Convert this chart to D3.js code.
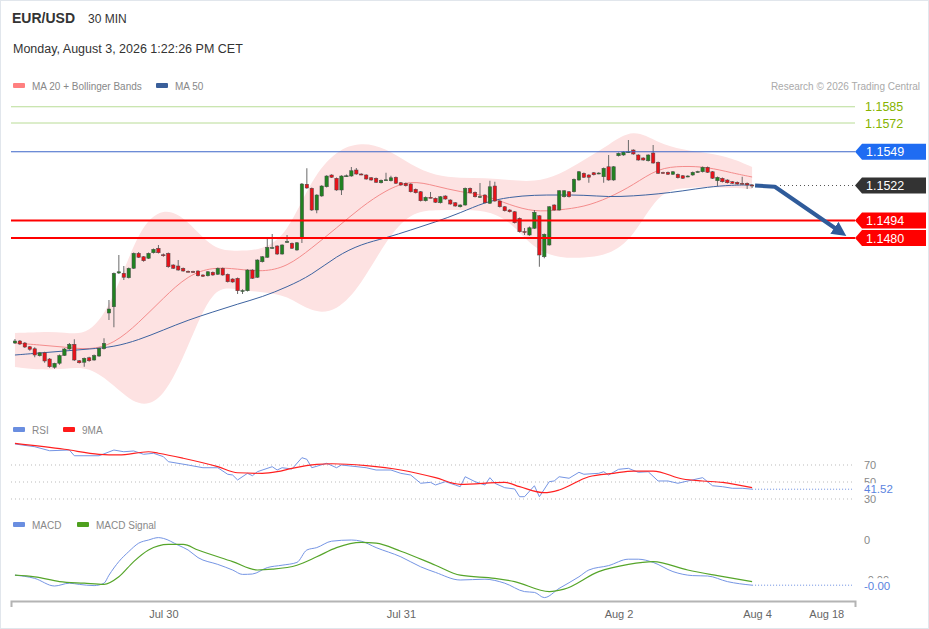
<!DOCTYPE html>
<html>
<head>
<meta charset="utf-8">
<script src="https://cdn.jsdelivr.net/npm/d3@7"></script>
<style>
body { margin:0; background:#fff; }
svg text { font-family: "Liberation Sans", Arial, sans-serif; }
</style>
</head>
<body>
<svg id="chart"></svg>
<script>
// candles, 30 min bars: [open, high, low, close]
var ohlc = [
[1.13960,1.13992,1.13952,1.13976],[1.13976,1.13984,1.13944,1.13952],[1.13960,1.13968,1.13920,1.13928],[1.13930,1.13936,1.13898,1.13910],
[1.13914,1.13926,1.13846,1.13864],[1.13858,1.13888,1.13852,1.13882],[1.13882,1.13890,1.13802,1.13816],[1.13832,1.13840,1.13762,1.13770],
[1.13766,1.13802,1.13754,1.13798],[1.13798,1.13868,1.13786,1.13860],[1.13860,1.13920,1.13856,1.13912],[1.13912,1.13960,1.13906,1.13950],
[1.13950,1.13990,1.13816,1.13824],[1.13818,1.13824,1.13796,1.13802],[1.13806,1.13844,1.13770,1.13838],[1.13842,1.13850,1.13810,1.13818],
[1.13824,1.13868,1.13818,1.13860],[1.13856,1.13924,1.13848,1.13918],[1.13914,1.13998,1.13908,1.13958],[1.14200,1.14304,1.14144,1.14232],
[1.14250,1.14524,1.14086,1.14518],[1.14520,1.14664,1.14512,1.14530],[1.14518,1.14576,1.14464,1.14486],[1.14482,1.14564,1.14476,1.14558],
[1.14558,1.14684,1.14552,1.14678],[1.14678,1.14688,1.14640,1.14646],[1.14650,1.14656,1.14610,1.14618],[1.14638,1.14684,1.14632,1.14678],
[1.14682,1.14716,1.14676,1.14710],[1.14718,1.14744,1.14676,1.14682],[1.14666,1.14676,1.14650,1.14662],[1.14678,1.14684,1.14562,1.14570],
[1.14584,1.14590,1.14552,1.14558],[1.14576,1.14624,1.14538,1.14544],[1.14558,1.14564,1.14530,1.14536],[1.14534,1.14540,1.14526,1.14532],
[1.14532,1.14538,1.14522,1.14528],[1.14536,1.14542,1.14492,1.14498],[1.14504,1.14510,1.14488,1.14494],[1.14498,1.14536,1.14492,1.14530],
[1.14526,1.14532,1.14498,1.14504],[1.14510,1.14564,1.14504,1.14558],[1.14558,1.14564,1.14498,1.14504],[1.14510,1.14516,1.14444,1.14450],
[1.14472,1.14478,1.14442,1.14448],[1.14478,1.14484,1.14352,1.14378],[1.14378,1.14390,1.14352,1.14380],[1.14378,1.14550,1.14372,1.14544],
[1.14544,1.14550,1.14472,1.14478],[1.14486,1.14630,1.14480,1.14624],[1.14610,1.14656,1.14604,1.14650],[1.14646,1.14806,1.14640,1.14726],
[1.14722,1.14832,1.14714,1.14724],[1.14736,1.14742,1.14664,1.14672],[1.14672,1.14750,1.14666,1.14744],[1.14770,1.14824,1.14762,1.14772],
[1.14758,1.14764,1.14712,1.14718],[1.14704,1.14768,1.14698,1.14762],[1.14806,1.15240,1.14760,1.15232],[1.15230,1.15358,1.15194,1.15200],
[1.15198,1.15204,1.15016,1.15024],[1.15024,1.15150,1.14998,1.15144],[1.15136,1.15222,1.15130,1.15216],[1.15210,1.15302,1.15204,1.15296],
[1.15304,1.15310,1.15280,1.15286],[1.15278,1.15284,1.15178,1.15184],[1.15184,1.15302,1.15144,1.15296],[1.15296,1.15308,1.15288,1.15298],
[1.15296,1.15368,1.15290,1.15338],[1.15344,1.15360,1.15306,1.15312],[1.15312,1.15318,1.15302,1.15310],[1.15304,1.15310,1.15266,1.15272],
[1.15282,1.15288,1.15258,1.15264],[1.15278,1.15284,1.15240,1.15246],[1.15242,1.15268,1.15236,1.15262],[1.15264,1.15322,1.15256,1.15266],
[1.15258,1.15298,1.15252,1.15282],[1.15286,1.15292,1.15232,1.15238],[1.15242,1.15248,1.15218,1.15224],[1.15238,1.15244,1.15212,1.15218],
[1.15232,1.15238,1.15164,1.15170],[1.15190,1.15196,1.15156,1.15162],[1.15170,1.15176,1.15092,1.15098],[1.15098,1.15132,1.15092,1.15126],
[1.15126,1.15168,1.15118,1.15124],[1.15118,1.15124,1.15080,1.15086],[1.15082,1.15136,1.15076,1.15130],[1.15136,1.15142,1.15106,1.15112],
[1.15104,1.15110,1.15066,1.15072],[1.15082,1.15088,1.15050,1.15056],[1.15050,1.15070,1.15044,1.15064],[1.15064,1.15204,1.15058,1.15198],
[1.15198,1.15204,1.15156,1.15162],[1.15166,1.15172,1.15124,1.15130],[1.15130,1.15240,1.15122,1.15132],[1.15144,1.15150,1.15076,1.15082],
[1.15078,1.15258,1.15072,1.15210],[1.15216,1.15250,1.15090,1.15096],[1.15096,1.15102,1.15044,1.15050],[1.15050,1.15056,1.15012,1.15018],
[1.15024,1.15030,1.15004,1.15010],[1.15010,1.15016,1.14916,1.14922],[1.14958,1.14964,1.14844,1.14850],[1.14852,1.14880,1.14824,1.14848],
[1.14824,1.14892,1.14818,1.14882],[1.14878,1.15024,1.14872,1.15006],[1.14978,1.14984,1.14570,1.14664],[1.14650,1.14836,1.14638,1.14830],
[1.14744,1.15056,1.14738,1.15050],[1.15064,1.15070,1.15018,1.15024],[1.15024,1.15184,1.15018,1.15178],[1.15130,1.15184,1.15124,1.15178],
[1.15170,1.15176,1.15124,1.15130],[1.15170,1.15276,1.15164,1.15270],[1.15264,1.15336,1.15258,1.15330],[1.15318,1.15324,1.15280,1.15286],
[1.15304,1.15310,1.15242,1.15286],[1.15322,1.15328,1.15300,1.15306],[1.15318,1.15326,1.15310,1.15320],[1.15290,1.15364,1.15242,1.15358],
[1.15370,1.15464,1.15258,1.15264],[1.15264,1.15376,1.15258,1.15370],[1.15458,1.15484,1.15452,1.15478],[1.15464,1.15494,1.15458,1.15488],
[1.15488,1.15584,1.15480,1.15490],[1.15504,1.15510,1.15466,1.15472],[1.15464,1.15470,1.15418,1.15424],[1.15440,1.15446,1.15418,1.15424],
[1.15418,1.15470,1.15412,1.15464],[1.15480,1.15544,1.15394,1.15400],[1.15406,1.15412,1.15312,1.15318],[1.15324,1.15330,1.15316,1.15322],
[1.15326,1.15332,1.15304,1.15310],[1.15310,1.15336,1.15304,1.15330],[1.15310,1.15316,1.15276,1.15282],[1.15298,1.15304,1.15272,1.15278],
[1.15292,1.15302,1.15286,1.15296],[1.15304,1.15332,1.15298,1.15326],[1.15330,1.15338,1.15322,1.15332],[1.15330,1.15372,1.15324,1.15366],
[1.15366,1.15372,1.15320,1.15326],[1.15330,1.15336,1.15272,1.15278],[1.15258,1.15292,1.15216,1.15286],[1.15278,1.15284,1.15244,1.15250],
[1.15264,1.15270,1.15236,1.15242],[1.15250,1.15256,1.15232,1.15238],[1.15246,1.15252,1.15226,1.15232],[1.15238,1.15290,1.15230,1.15236],
[1.15238,1.15244,1.15192,1.15224],[1.15224,1.15232,1.15200,1.15220]
];

// MA 20 / Bollinger / MA 50, read every 5 bars
var maIdx = [0,5,10,15,20,25,30,35,40,45,50,55,60,65,70,75,80,85,90,95,100,105,110,115,120,125,130,135,140,145,149];
var ma20 = [1.1396,1.13944,1.13928,1.13904,1.13952,1.1412,1.1432,1.14504,1.14568,1.14552,1.14528,1.14568,1.1472,1.1488,1.15048,1.15184,1.15264,1.15216,1.15168,1.15144,1.15064,1.15008,1.15024,1.15048,1.1512,1.15224,1.1536,1.15376,1.15368,1.1532,1.15288];
var ma50 = [1.13864,1.1388,1.13896,1.13912,1.13928,1.13984,1.14064,1.14144,1.14208,1.14272,1.14328,1.14408,1.14504,1.14656,1.14752,1.148,1.14864,1.14928,1.15,1.15088,1.15128,1.15144,1.15144,1.15144,1.15128,1.15136,1.15152,1.15176,1.15208,1.15224,1.15224];
var bbUpper = [1.1404,1.14048,1.14048,1.14016,1.14304,1.1488,1.15056,1.14944,1.14704,1.14696,1.14704,1.14824,1.1528,1.15504,1.15568,1.1552,1.15384,1.15296,1.1528,1.1528,1.15264,1.15248,1.15304,1.15424,1.15544,1.1568,1.1556,1.15504,1.1548,1.1544,1.15368];
var bbLower = [1.13768,1.13744,1.13752,1.13776,1.13624,1.1344,1.13504,1.13928,1.14424,1.14384,1.14368,1.14344,1.142,1.14208,1.14424,1.14784,1.15008,1.15024,1.15024,1.15024,1.14944,1.14704,1.1464,1.1464,1.14664,1.148,1.15168,1.152,1.15208,1.152,1.15192];

// key levels
var levelValues = [1.1585, 1.1572, 1.1549, 1.1522, 1.1494, 1.1480];
var levelKinds = ['target', 'target', 'pivot', 'last', 'support', 'support'];

// projection arrow (bar index, price)
var projIdx = [149.6, 153.6, 166.6];
var projVal = [1.1522, 1.1521, 1.14856];

// RSI and its 9 MA
var rsiIdx = [0,4,7,11,12,17,20,22,24,26,28,30,31,35,38,41,43,44,45,47,48,49,52,53,54,56,58,59,60,63,65,66,71,73,76,78,80,82,84,85,87,89,90,91,93,95,96,97,99,101,102,103,105,106,108,109,110,112,114,115,118,119,120,122,124,126,128,130,132,134,136,139,141,143,145,147,149];
var rsiVal = [94.7,91.5,86.8,87.6,80.9,80.9,87.6,85.6,86.5,82.6,83.8,79.8,73.9,70,66.8,66.8,59.1,58.2,52.4,60.2,57.4,62.1,68,64.1,66.8,65.3,78.6,76.7,66.8,72,66.8,70,66.8,64.1,64.1,60.2,58.2,48.5,49.6,46.5,50.4,46.5,44.5,56.2,50.4,46.5,55.1,48.5,43.3,41.8,32.7,32.7,45.6,32.7,50.4,51.2,56.2,54.4,61.4,59.1,60.2,62.1,58.2,64.9,66.1,61.4,62.1,51.2,51.2,48.5,51.2,55.1,45.6,44.5,42.6,42.6,41.52];
var rsiMaIdx = [0,10,17,21,27,29,34,41,45,50,53,56,61,64,71,78,85,90,99,102,107,110,116,121,125,129,135,139,143,149];
var rsiMaVal = [95.5,88.5,82.6,81.8,85.6,83.8,77.9,68,60.9,60.2,62.1,66.1,70.8,71.5,69.2,64.1,55.1,47.3,49.6,44.5,37.4,40.6,56.2,60.2,62.9,62.9,53.5,51.2,49.6,43.3];
var rsiTicks = [70, 50, 30];

// MACD and signal
var macdIdx = [0,4,8,11,13,16,18,19,21,23,25,27,29,30,33,35,37,41,44,46,48,51,54,57,59,61,64,68,70,73,78,82,85,90,95,99,103,105,107,110,114,116,120,124,126,129,133,137,140,144,149];
var macdVal = [-0.00088,-0.00096,-0.00115,-0.00108,-0.00111,-0.00114,-0.00108,-0.00088,-0.00054,-0.00029,-0.00008,0,0.00006,0.00004,-0.00013,-0.00025,-0.00044,-0.00061,-0.00075,-0.00086,-0.00085,-0.00069,-0.00063,-0.00056,-0.00025,-0.00019,-0.00003,0,-0.00003,-0.00019,-0.00042,-0.00067,-0.00081,-0.001,-0.00098,-0.00108,-0.00129,-0.00131,-0.00144,-0.00121,-0.00092,-0.00075,-0.00064,-0.00048,-0.00048,-0.00056,-0.00079,-0.00089,-0.0009,-0.00104,-0.00113];
var sigIdx = [0,4,9,14,18,21,24,27,31,34,37,44,49,52,57,61,65,70,73,78,85,90,97,101,108,111,118,124,129,136,142,149];
var sigVal = [-0.00088,-0.00092,-0.00104,-0.00108,-0.00111,-0.00092,-0.00054,-0.00025,-0.00011,-0.00011,-0.00025,-0.00054,-0.00075,-0.00073,-0.00063,-0.00042,-0.00019,-0.00006,-0.00008,-0.00028,-0.00063,-0.00088,-0.00096,-0.00104,-0.00129,-0.00123,-0.00079,-0.00061,-0.00054,-0.00075,-0.00089,-0.00104];
var macdTicks = [0, -0.001];

// x axis
var tickIdx = [30, 78, 122, 150, 164];
var tickLabels = ['Jul 30', 'Jul 31', 'Aug 2', 'Aug 4', 'Aug 18'];

var W = 929, H = 629;
var svg = d3.select('#chart').attr('width', W).attr('height', H);

var x = d3.scaleLinear().domain([-0.8, 169.8]).range([11, 855]);
var y = d3.scaleLinear().domain([1.1480, 1.1585]).range([238, 106.75]);
var yRsi = d3.scaleLinear().domain([30, 70]).range([499, 465]);
var yMacd = d3.scaleLinear().domain([-0.001, 0]).range([580, 540]);
var lineEnd = 852;

// keep the sign when a small negative rounds to zero
function fmt2(v) { return (v < 0 ? '-' : '') + Math.abs(v).toFixed(2); }

svg.append('rect').attr('x', 0.5).attr('y', 0.5).attr('width', W - 1).attr('height', H - 1)
    .attr('fill', '#fff').attr('stroke', '#e1e6ec');

// header
svg.append('text').attr('x', 12).attr('y', 23).text('EUR/USD')
    .attr('font-size', 14).attr('font-weight', 'bold').attr('fill', '#333');
svg.append('text').attr('x', 88).attr('y', 23).text('30 MIN')
    .attr('font-size', 12).attr('fill', '#333');
svg.append('text').attr('x', 13).attr('y', 53).text('Monday, August 3, 2026 1:22:26 PM CET')
    .attr('font-size', 12.5).attr('fill', '#333');
svg.append('text').attr('x', 920).attr('y', 90).attr('text-anchor', 'end')
    .text('Research \u00a9 2026 Trading Central').attr('font-size', 10).attr('fill', '#aaa');

function legend(items, ly) {
    items.forEach(function(it) {
        svg.append('rect').attr('x', it[0]).attr('y', ly - 3).attr('width', 12).attr('height', 5)
            .attr('rx', 1).attr('fill', it[2]);
        svg.append('text').attr('x', it[0] + 19).attr('y', ly + 3.5).text(it[1])
            .attr('font-size', 10).attr('fill', '#888');
    });
}
legend([[13, 'MA 20 + Bollinger Bands', '#ff8080'], [156, 'MA 50', '#3a5f9a']], 86);
legend([[13, 'RSI', '#6a8ee0'], [63, '9MA', '#ff1a1a']], 430);
legend([[13, 'MACD', '#6a8ee0'], [77, 'MACD Signal', '#4ea01e']], 525);

// bollinger band + moving averages
var band = maIdx.map(function(d, i) { return {i: d, hi: bbUpper[i], lo: bbLower[i], m20: ma20[i], m50: ma50[i]}; });
svg.append('path').datum(band)
    .attr('d', d3.area().x(d => x(d.i)).y0(d => y(d.lo)).y1(d => y(d.hi)).curve(d3.curveBasis))
    .attr('fill', '#fde2e2');
svg.append('path').datum(band)
    .attr('d', d3.line().x(d => x(d.i)).y(d => y(d.m20)).curve(d3.curveBasis))
    .attr('fill', 'none').attr('stroke', '#f48c8c').attr('stroke-width', 1);
svg.append('path').datum(band)
    .attr('d', d3.line().x(d => x(d.i)).y(d => y(d.m50)).curve(d3.curveBasis))
    .attr('fill', 'none').attr('stroke', '#3d63a0').attr('stroke-width', 1);

// candles
var bw = 3.4;
var cg = svg.append('g');
cg.selectAll('line').data(ohlc).join('line')
    .attr('x1', (d, i) => x(i)).attr('x2', (d, i) => x(i))
    .attr('y1', d => y(d[1])).attr('y2', d => y(d[2]))
    .attr('stroke', '#6a6a6a').attr('stroke-width', 1);
cg.selectAll('rect').data(ohlc).join('rect')
    .attr('x', (d, i) => x(i) - bw / 2)
    .attr('y', d => y(Math.max(d[0], d[3])))
    .attr('width', bw)
    .attr('height', d => Math.max(1, Math.abs(y(d[0]) - y(d[3]))))
    .attr('fill', d => d[3] >= d[0] ? '#218221' : '#e8121a')
    .attr('stroke', '#4a4a4a').attr('stroke-width', 0.5);

// level lines and labels
var lastX = x(ohlc.length - 1);
levelValues.forEach(function(v, i) {
    var k = levelKinds[i], ly = y(v);
    if (k === 'target') {
        svg.append('line').attr('x1', 11).attr('x2', 855).attr('y1', ly).attr('y2', ly)
            .attr('stroke', '#b9dc96').attr('stroke-width', 1);
        svg.append('text').attr('x', 865).attr('y', ly + 4.5).text(v.toFixed(4))
            .attr('font-size', 12.5).attr('fill', '#86b300');
        return;
    }
    var boxColor;
    if (k === 'pivot') {
        svg.append('line').attr('x1', 11).attr('x2', 855).attr('y1', ly).attr('y2', ly)
            .attr('stroke', '#3d66c8').attr('stroke-width', 1);
        boxColor = '#1f6cf2';
    } else if (k === 'last') {
        svg.append('line').attr('x1', 780).attr('x2', 855).attr('y1', ly).attr('y2', ly)
            .attr('stroke', '#555').attr('stroke-width', 1).attr('stroke-dasharray', '1,3');
        boxColor = '#333';
    } else {
        svg.append('line').attr('x1', 11).attr('x2', 855).attr('y1', ly).attr('y2', ly)
            .attr('stroke', '#ff0000').attr('stroke-width', 2);
        boxColor = '#ff0000';
    }
    svg.append('path')
        .attr('d', `M855,${ly} L862,${ly - 8} L926,${ly - 8} L926,${ly + 8} L862,${ly + 8} Z`)
        .attr('fill', boxColor);
    svg.append('text').attr('x', 866).attr('y', ly + 4.5).text(v.toFixed(4))
        .attr('font-size', 12.5).attr('fill', '#fff');
});

// projection arrow
svg.append('defs').append('marker').attr('id', 'head')
    .attr('viewBox', '0 0 10 10').attr('refX', 4).attr('refY', 5)
    .attr('markerWidth', 3.6).attr('markerHeight', 3.6).attr('orient', 'auto')
    .append('path').attr('d', 'M0,0 L10,5 L0,10 Z').attr('fill', '#2f5b9a');
svg.append('path').datum(projIdx.map((d, i) => [d, projVal[i]]))
    .attr('d', d3.line().x(d => x(d[0])).y(d => y(d[1])))
    .attr('fill', 'none').attr('stroke', '#2f5b9a').attr('stroke-width', 4)
    .attr('stroke-linejoin', 'round').attr('marker-end', 'url(#head)');

// RSI pane
rsiTicks.forEach(function(t) {
    svg.append('line').attr('x1', 11).attr('x2', lineEnd).attr('y1', yRsi(t)).attr('y2', yRsi(t))
        .attr('stroke', '#bbb').attr('stroke-dasharray', '1,3');
    svg.append('text').attr('x', 864).attr('y', yRsi(t) + 4).text(t)
        .attr('font-size', 11).attr('fill', '#888');
});
svg.append('path').datum(rsiIdx.map((d, i) => [d, rsiVal[i]]))
    .attr('d', d3.line().x(d => x(d[0])).y(d => yRsi(d[1])))
    .attr('fill', 'none').attr('stroke', '#7595e4').attr('stroke-width', 1);
svg.append('path').datum(rsiMaIdx.map((d, i) => [d, rsiMaVal[i]]))
    .attr('d', d3.line().x(d => x(d[0])).y(d => yRsi(d[1])).curve(d3.curveMonotoneX))
    .attr('fill', 'none').attr('stroke', '#ff2020').attr('stroke-width', 1.2);
var rsiLast = rsiVal[rsiVal.length - 1];
svg.append('line').attr('x1', lastX).attr('x2', lineEnd).attr('y1', yRsi(rsiLast)).attr('y2', yRsi(rsiLast))
    .attr('stroke', '#6a8ee0').attr('stroke-dasharray', '1,2');
svg.append('rect').attr('x', 862).attr('y', yRsi(rsiLast) - 6).attr('width', 34).attr('height', 12).attr('fill', '#fff');
svg.append('text').attr('x', 864).attr('y', yRsi(rsiLast) + 4).text(rsiLast.toFixed(2))
    .attr('font-size', 11.5).attr('fill', '#5b84e0');

// MACD pane
macdTicks.forEach(function(t) {
    svg.append('text').attr('x', 864).attr('y', yMacd(t) + 4)
        .text(t === 0 ? '0' : fmt2(t))
        .attr('font-size', 11).attr('fill', '#888');
});
svg.append('path').datum(macdIdx.map((d, i) => [d, macdVal[i]]))
    .attr('d', d3.line().x(d => x(d[0])).y(d => yMacd(d[1])).curve(d3.curveMonotoneX))
    .attr('fill', 'none').attr('stroke', '#7595e4').attr('stroke-width', 1);
svg.append('path').datum(sigIdx.map((d, i) => [d, sigVal[i]]))
    .attr('d', d3.line().x(d => x(d[0])).y(d => yMacd(d[1])).curve(d3.curveMonotoneX))
    .attr('fill', 'none').attr('stroke', '#56a52a').attr('stroke-width', 1.2);
var macdLast = macdVal[macdVal.length - 1];
svg.append('line').attr('x1', lastX).attr('x2', lineEnd).attr('y1', yMacd(macdLast)).attr('y2', yMacd(macdLast))
    .attr('stroke', '#6a8ee0').attr('stroke-dasharray', '1,2');
svg.append('rect').attr('x', 862).attr('y', yMacd(macdLast) - 7).attr('width', 34).attr('height', 14).attr('fill', '#fff');
svg.append('text').attr('x', 864).attr('y', yMacd(macdLast) + 4.5).text(fmt2(macdLast))
    .attr('font-size', 11.5).attr('fill', '#5b84e0');

// x axis
var xAxis = d3.axisBottom(x)
    .tickValues(tickIdx)
    .tickFormat((d, i) => tickLabels[i])
    .tickSize(0)
    .tickSizeOuter(6)
    .tickPadding(9);
var xg = svg.append('g').attr('transform', 'translate(0,601)').call(xAxis);
xg.select('.domain').attr('stroke', '#b4b4b4').attr('stroke-width', 2);
xg.selectAll('text').attr('font-size', 11).attr('fill', '#666')
    .attr('font-family', '"Liberation Sans", Arial, sans-serif');
</script>
</body>
</html>
